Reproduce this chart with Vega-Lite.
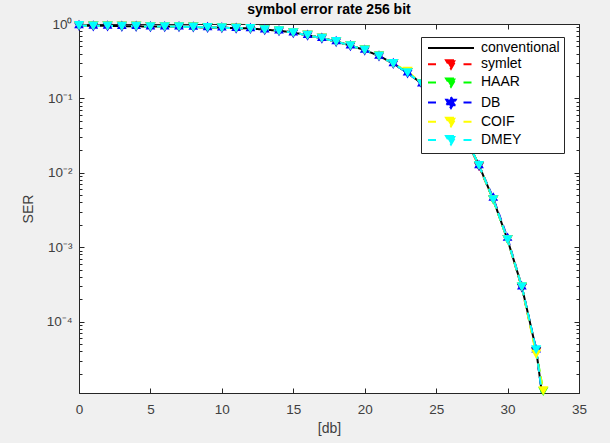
{
  "$schema": "https://vega.github.io/schema/vega-lite/v6.json",
  "width": 500,
  "height": 369,
  "autosize": "none",
  "padding": {"left": 79, "top": 24, "right": 31, "bottom": 50},
  "background": "#f0f0f0",
  "view": {"fill": "white", "stroke": "#262626", "strokeWidth": 1},
  "title": {"text": "symbol error rate 256 bit", "font": "Liberation Sans", "fontSize": 14, "fontWeight": "bold", "color": "#000000", "anchor": "middle", "offset": 0},
  "data": {"values": [
    {"db": 0, "conventional": 0.955, "symlet": 0.955, "HAAR": 0.955, "DB": 0.955, "COIF": 0.955, "DMEY": 0.955},
    {"db": 1, "conventional": 0.944, "symlet": 0.944, "HAAR": 0.944, "DB": 0.944, "COIF": 0.944, "DMEY": 0.944},
    {"db": 2, "conventional": 0.944, "symlet": 0.944, "HAAR": 0.944, "DB": 0.944, "COIF": 0.944, "DMEY": 0.944},
    {"db": 3, "conventional": 0.933, "symlet": 0.933, "HAAR": 0.933, "DB": 0.933, "COIF": 0.933, "DMEY": 0.933},
    {"db": 4, "conventional": 0.933, "symlet": 0.933, "HAAR": 0.933, "DB": 0.933, "COIF": 0.933, "DMEY": 0.933},
    {"db": 5, "conventional": 0.923, "symlet": 0.923, "HAAR": 0.923, "DB": 0.923, "COIF": 0.923, "DMEY": 0.923},
    {"db": 6, "conventional": 0.923, "symlet": 0.923, "HAAR": 0.923, "DB": 0.923, "COIF": 0.923, "DMEY": 0.923},
    {"db": 7, "conventional": 0.923, "symlet": 0.923, "HAAR": 0.923, "DB": 0.923, "COIF": 0.923, "DMEY": 0.923},
    {"db": 8, "conventional": 0.912, "symlet": 0.912, "HAAR": 0.912, "DB": 0.912, "COIF": 0.912, "DMEY": 0.912},
    {"db": 9, "conventional": 0.902, "symlet": 0.902, "HAAR": 0.902, "DB": 0.902, "COIF": 0.902, "DMEY": 0.902},
    {"db": 10, "conventional": 0.891, "symlet": 0.891, "HAAR": 0.891, "DB": 0.891, "COIF": 0.891, "DMEY": 0.891},
    {"db": 11, "conventional": 0.881, "symlet": 0.881, "HAAR": 0.881, "DB": 0.881, "COIF": 0.881, "DMEY": 0.881},
    {"db": 12, "conventional": 0.871, "symlet": 0.871, "HAAR": 0.871, "DB": 0.871, "COIF": 0.871, "DMEY": 0.871},
    {"db": 13, "conventional": 0.841, "symlet": 0.841, "HAAR": 0.841, "DB": 0.841, "COIF": 0.841, "DMEY": 0.841},
    {"db": 14, "conventional": 0.813, "symlet": 0.813, "HAAR": 0.813, "DB": 0.813, "COIF": 0.813, "DMEY": 0.813},
    {"db": 15, "conventional": 0.767, "symlet": 0.767, "HAAR": 0.767, "DB": 0.767, "COIF": 0.767, "DMEY": 0.767},
    {"db": 16, "conventional": 0.708, "symlet": 0.708, "HAAR": 0.708, "DB": 0.708, "COIF": 0.708, "DMEY": 0.708},
    {"db": 17, "conventional": 0.646, "symlet": 0.646, "HAAR": 0.646, "DB": 0.646, "COIF": 0.646, "DMEY": 0.646},
    {"db": 18, "conventional": 0.582, "symlet": 0.582, "HAAR": 0.582, "DB": 0.582, "COIF": 0.582, "DMEY": 0.582},
    {"db": 19, "conventional": 0.513, "symlet": 0.513, "HAAR": 0.513, "DB": 0.513, "COIF": 0.513, "DMEY": 0.513},
    {"db": 20, "conventional": 0.447, "symlet": 0.447, "HAAR": 0.447, "DB": 0.447, "COIF": 0.447, "DMEY": 0.447},
    {"db": 21, "conventional": 0.372, "symlet": 0.372, "HAAR": 0.372, "DB": 0.372, "COIF": 0.372, "DMEY": 0.372},
    {"db": 22, "conventional": 0.295, "symlet": 0.295, "HAAR": 0.295, "DB": 0.295, "COIF": 0.295, "DMEY": 0.295},
    {"db": 23, "conventional": 0.221, "symlet": 0.221, "HAAR": 0.221, "DB": 0.221, "COIF": 0.232, "DMEY": 0.221},
    {"db": 24, "conventional": 0.158, "symlet": 0.158, "HAAR": 0.158, "DB": 0.158, "COIF": 0.158, "DMEY": 0.158},
    {"db": 25, "conventional": 0.105, "symlet": 0.105, "HAAR": 0.105, "DB": 0.105, "COIF": 0.105, "DMEY": 0.105},
    {"db": 26, "conventional": 0.063, "symlet": 0.063, "HAAR": 0.063, "DB": 0.063, "COIF": 0.063, "DMEY": 0.063},
    {"db": 27, "conventional": 0.0316, "symlet": 0.0316, "HAAR": 0.0316, "DB": 0.0316, "COIF": 0.0316, "DMEY": 0.0316},
    {"db": 28, "conventional": 0.0126, "symlet": 0.0121, "HAAR": 0.0126, "DB": 0.0126, "COIF": 0.0126, "DMEY": 0.0126},
    {"db": 29, "conventional": 0.00437, "symlet": 0.00437, "HAAR": 0.0043, "DB": 0.0046, "COIF": 0.00437, "DMEY": 0.00437},
    {"db": 30, "conventional": 0.00126, "symlet": 0.00126, "HAAR": 0.00126, "DB": 0.00133, "COIF": 0.00126, "DMEY": 0.00126},
    {"db": 31, "conventional": 0.000295, "symlet": 0.000285, "HAAR": 0.00029, "DB": 0.000295, "COIF": 0.000295, "DMEY": 0.000295},
    {"db": 32, "conventional": 0.000042, "symlet": 0.000039, "HAAR": 0.00004, "DB": 0.000042, "COIF": 0.0000365, "DMEY": 0.000042},
    {"db": 32.5, "conventional": 0.000008, "symlet": 0.000009, "HAAR": 0.0000115, "DB": 0.000008, "COIF": 0.0000118, "DMEY": 0.000008}
  ]},
  "transform": [
    {"fold": ["conventional", "symlet", "HAAR", "DB", "COIF", "DMEY"], "as": ["series", "SER"]}
  ],
  "encoding": {
    "x": {"field": "db", "type": "quantitative", "scale": {"domain": [0, 35], "nice": false, "zero": false}},
    "y": {"field": "SER", "type": "quantitative", "scale": {"type": "log", "domain": [0.000011, 1], "nice": false}}
  },
  "layer": [
    {
      "mark": {"type": "line", "strokeWidth": 2, "clip": true},
      "encoding": {
        "x": {"field": "db", "type": "quantitative", "axis": {
          "title": "[db]", "values": [0, 5, 10, 15, 20, 25, 30, 35], "grid": false, "labelFlush": false,
          "tickSize": -5, "labelPadding": 14, "tickColor": "#262626", "domainColor": "#262626",
          "labelFont": "Liberation Sans", "labelFontSize": 13.5, "labelColor": "#404040",
          "titleFont": "Liberation Sans", "titleFontSize": 14, "titleFontWeight": "normal", "titleColor": "#404040", "titlePadding": 6
        }},
        "y": {"field": "SER", "type": "quantitative", "axis": {
          "title": "SER", "grid": false, "labelFlush": false,
          "values": [0.00002, 0.00003, 0.00004, 0.00005, 0.00006, 0.00007, 0.00008, 0.00009, 0.0001, 0.0002, 0.0003, 0.0004, 0.0005, 0.0006, 0.0007, 0.0008, 0.0009, 0.001, 0.002, 0.003, 0.004, 0.005, 0.006, 0.007, 0.008, 0.009, 0.01, 0.02, 0.03, 0.04, 0.05, 0.06, 0.07, 0.08, 0.09, 0.1, 0.2, 0.3, 0.4, 0.5, 0.6, 0.7, 0.8, 0.9, 1],
          "labelExpr": "datum.value==1?'10⁰':datum.value==0.1?'10⁻¹':datum.value==0.01?'10⁻²':datum.value==0.001?'10⁻³':datum.value==0.0001?'10⁻⁴':''",
          "tickSize": {"condition": {"test": "datum.value==1||datum.value==0.1||datum.value==0.01||datum.value==0.001||datum.value==0.0001", "value": -5}, "value": -3},
          "labelPadding": 12, "tickColor": "#262626", "domainColor": "#262626", "labelBound": false, "labelOverlap": false,
          "labelFont": "Liberation Sans", "labelFontSize": 13.5, "labelColor": "#404040",
          "titleFont": "Liberation Sans", "titleFontSize": 14, "titleFontWeight": "normal", "titleColor": "#404040", "titlePadding": 11
        }},
        "color": {"field": "series", "type": "nominal",
          "scale": {"domain": ["conventional", "symlet", "HAAR", "DB", "COIF", "DMEY"], "range": ["#000000", "#ff0000", "#00ff00", "#0000ff", "#ffff00", "#00ffff"]},
          "sort": ["conventional", "symlet", "HAAR", "DB", "COIF", "DMEY"],
          "legend": {
            "title": null, "orient": "none", "legendX": 342, "legendY": 13,
            "strokeColor": "#262626", "fillColor": "white", "padding": 4, "cornerRadius": 0,
            "labelFont": "Liberation Sans", "labelFontSize": 14, "labelColor": "#000000",
            "symbolSize": 100, "rowPadding": 1.2, "labelOffset": 23, "symbolOffset": 19,
            "encode": {"symbols": {"update": {
              "shape": {"signal": "datum.value==='conventional' ? 'M-4.6,0H4.6' : datum.value==='DB' ? 'M-4.6,0H-2.5M2.5,0H4.6M0,-1.1L0.32,-0.55L0.95,-0.55L0.63,0L0.95,0.55L0.32,0.55L0,1.1L-0.32,0.55L-0.95,0.55L-0.63,0L-0.95,-0.55L-0.32,-0.55Z' : 'M-4.6,0H-2.5M2.5,0H4.6M-1,-0.8L1,-0.8L0,0.9Z'"},
              "fill": {"scale": "color", "field": "value"},
              "stroke": {"scale": "color", "field": "value"},
              "strokeWidth": {"value": 2},
              "strokeDash": {"value": []},
              "opacity": {"value": 1},
              "fillOpacity": {"value": 1}
            }}}
          }},
        "strokeDash": {"field": "series", "type": "nominal", "legend": null,
          "scale": {"domain": ["conventional", "symlet", "HAAR", "DB", "COIF", "DMEY"], "range": [[1, 0], [8, 5], [8, 5], [8, 5], [8, 5], [8, 5]]}}
      }
    },
    {
      "transform": [{"filter": "datum.series !== 'conventional' && datum.SER >= 0.000011"}],
      "mark": {"type": "point", "filled": true, "size": 105, "opacity": 1},
      "encoding": {
        "x": {"field": "db", "type": "quantitative", "axis": null},
        "y": {"field": "SER", "type": "quantitative", "axis": null},
        "color": {"field": "series", "type": "nominal"},
        "shape": {"condition": {"test": "datum.series === 'DB'", "value": "M0,-1.1L0.32,-0.55L0.95,-0.55L0.63,0L0.95,0.55L0.32,0.55L0,1.1L-0.32,0.55L-0.95,0.55L-0.63,0L-0.95,-0.55L-0.32,-0.55Z"}, "value": "triangle-down"}
      }
    },
    {
      "mark": {"type": "point", "opacity": 0},
      "encoding": {
        "x": {"field": "db", "type": "quantitative", "axis": {"orient": "top", "title": null, "labels": false, "values": [0, 5, 10, 15, 20, 25, 30, 35], "grid": false, "tickSize": -5, "tickColor": "#262626", "domainColor": "#262626"}},
        "y": {"field": "SER", "type": "quantitative", "axis": {"orient": "right", "title": null, "labels": false, "grid": false, "tickColor": "#262626", "domainColor": "#262626",
          "values": [0.00002, 0.00003, 0.00004, 0.00005, 0.00006, 0.00007, 0.00008, 0.00009, 0.0001, 0.0002, 0.0003, 0.0004, 0.0005, 0.0006, 0.0007, 0.0008, 0.0009, 0.001, 0.002, 0.003, 0.004, 0.005, 0.006, 0.007, 0.008, 0.009, 0.01, 0.02, 0.03, 0.04, 0.05, 0.06, 0.07, 0.08, 0.09, 0.1, 0.2, 0.3, 0.4, 0.5, 0.6, 0.7, 0.8, 0.9, 1],
          "tickSize": {"condition": {"test": "datum.value==1||datum.value==0.1||datum.value==0.01||datum.value==0.001||datum.value==0.0001", "value": -5}, "value": -3}}}
      }
    }
  ],
  "resolve": {"axis": {"x": "independent", "y": "independent"}}
}
